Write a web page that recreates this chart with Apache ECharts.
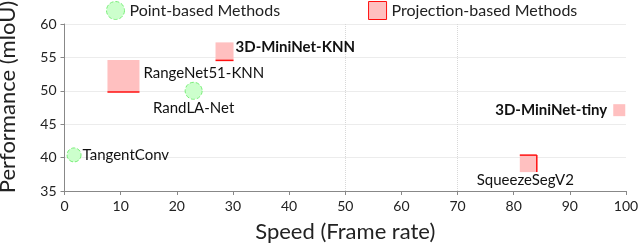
<!DOCTYPE html>
<html><head><meta charset="utf-8">
<script src="https://cdn.jsdelivr.net/npm/echarts@6/dist/echarts.min.js"></script>
<style>html,body{margin:0;padding:0;background:#fff}#c{width:640px;height:245px}</style>
</head><body><div id="c"></div>
<script>
// ---- data ----
const pointNames = ['TangentConv', 'RandLA-Net'];
const pointSpeed = [1.7, 23];
const pointMiou = [40.4, 50.0];
const projNames = ['RangeNet51-KNN', '3D-MiniNet-KNN', 'SqueezeSegV2', '3D-MiniNet-tiny'];
const projSpeed = [10.5, 28.5, 82.6, 98.8];
const projMiou = [52.2, 55.9, 39.1, 47.1];
const vGridAt = [50, 70];

// ---- styles ----
const FONT = 'Lato';
const LBL = 15;
const markerSize = {'TangentConv':14,'RandLA-Net':17,'RangeNet51-KNN':32,'3D-MiniNet-KNN':18,'SqueezeSegV2':17,'3D-MiniNet-tiny':12};
const labelPlace = {
  'TangentConv': {position:'right', distance:1, offset:[0,0]},
  'RandLA-Net': {position:'bottom', distance:1, offset:[0,0]},
  'RangeNet51-KNN': {pos:'right', dx:4, dy:-3},
  '3D-MiniNet-KNN': {pos:'right', dx:2, dy:-4},
  'SqueezeSegV2': {pos:'bottom', dx:-3, dy:1},
  '3D-MiniNet-tiny': {pos:'left', dx:-6, dy:0}
};
const boldNames = {'3D-MiniNet-KNN':true, '3D-MiniNet-tiny':true};
const redEdges = {'RangeNet51-KNN':['b'], '3D-MiniNet-KNN':['b'], 'SqueezeSegV2':['t','r'], '3D-MiniNet-tiny':[]};
const GREEN_FILL = '#ccffcc', GREEN_LINE = '#77ee77';
const PINK = '#ffc0c0', RED = '#ff1010';

const chart = echarts.init(document.getElementById('c'), null, {renderer:'canvas'});

const pointData = pointNames.map((n, i) => ({
  name: n,
  value: [pointSpeed[i], pointMiou[i]],
  symbolSize: markerSize[n],
  label: Object.assign({show:true, formatter:'{b}', color:'#111', fontFamily:FONT, fontSize:LBL}, labelPlace[n])
}));

const projData = projNames.map((n, i) => [projSpeed[i], projMiou[i]]);

function renderRect(params, api) {
  const n = projNames[params.dataIndex];
  const c = api.coord([api.value(0), api.value(1)]);
  const s = markerSize[n];
  const x0 = c[0] - s / 2, y0 = c[1] - s / 2;
  const ch = [{type:'rect', shape:{x:x0, y:y0, width:s, height:s}, style:{fill:PINK}}];
  (redEdges[n] || []).forEach(e => {
    let sh;
    if (e === 'b') sh = {x1:x0, y1:y0+s, x2:x0+s, y2:y0+s};
    if (e === 't') sh = {x1:x0, y1:y0, x2:x0+s, y2:y0};
    if (e === 'r') sh = {x1:x0+s, y1:y0, x2:x0+s, y2:y0+s};
    if (e === 'l') sh = {x1:x0, y1:y0, x2:x0, y2:y0+s};
    ch.push({type:'line', shape:sh, style:{stroke:RED, lineWidth:1.5}});
  });
  const lp = labelPlace[n];
  let tx, ty, ta = 'left', tv = 'middle';
  if (lp.pos === 'right') { tx = x0 + s + lp.dx; ty = c[1] + lp.dy; ta = 'left'; }
  else if (lp.pos === 'left') { tx = x0 + lp.dx; ty = c[1] + lp.dy; ta = 'right'; }
  else { tx = c[0] + lp.dx; ty = y0 + s + lp.dy; ta = 'center'; tv = 'top'; }
  ch.push({type:'text', style:{text:n, x:tx, y:ty, align:ta, verticalAlign:tv, textAlign:ta, textVerticalAlign:tv,
    fontFamily:FONT, fontSize:LBL, fontWeight: boldNames[n] ? 'bold' : 'normal', fill:'#111'}});
  return {type:'group', children:ch};
}

chart.setOption({
  animation: false,
  backgroundColor: '#fff',
  grid: {left:64.5, right:14, top:24, bottom:54, containLabel:false, outerBoundsMode:'none'},
  legend: {
    top: 1, left: 106, padding: 0, itemWidth: 18, itemHeight: 18, itemGap: 88,
    textStyle: {fontFamily:FONT, fontSize:16, color:'#222'},
    data: [
      {name:'Point-based Methods', icon:'circle', itemStyle:{color:GREEN_FILL, borderColor:GREEN_LINE, borderWidth:1, borderType:'dashed'}},
      {name:'Projection-based Methods', icon:'rect', itemStyle:{color:PINK, borderColor:RED, borderWidth:1}}
    ]
  },
  xAxis: {
    type:'value', min:0, max:100, interval:10,
    name:'Speed (Frame rate)', nameLocation:'middle', nameGap:30,
    nameTextStyle:{fontFamily:FONT, fontSize:22, color:'#222'},
    axisLine:{show:true, lineStyle:{color:'#888', width:1}},
    axisTick:{show:true, length:4, lineStyle:{color:'#888'}},
    axisLabel:{fontFamily:FONT, fontSize:14, color:'#222', margin:8},
    splitLine:{show:false}
  },
  yAxis: {
    type:'value', min:35, max:60, interval:5,
    name:'Performance (mIoU)', nameLocation:'middle', nameGap:46,
    nameTextStyle:{fontFamily:FONT, fontSize:22, color:'#222', padding:[0,0,0,21]},
    axisLine:{show:true, lineStyle:{color:'#888', width:1}},
    axisTick:{show:true, length:4, lineStyle:{color:'#888'}},
    axisLabel:{fontFamily:FONT, fontSize:14, color:'#222', margin:8},
    splitLine:{show:true, lineStyle:{color:'#d8d8d8', type:'dotted', width:1}}
  },
  series: [
    {
      name:'Point-based Methods', type:'scatter', symbol:'circle',
      itemStyle:{color:GREEN_FILL, borderColor:GREEN_LINE, borderWidth:1, borderType:'dashed', opacity:1},
      data: pointData, z:3,
      markLine: {
        silent:true, symbol:'none', label:{show:false}, z:1,
        lineStyle:{color:'#d8d8d8', type:'dotted', width:1},
        data: vGridAt.map(v => ({xAxis: v}))
      }
    },
    {
      name:'Projection-based Methods', type:'custom',
      itemStyle:{color:PINK, borderColor:RED},
      renderItem: renderRect, data: projData, z:3
    }
  ]
});
</script></body></html>
